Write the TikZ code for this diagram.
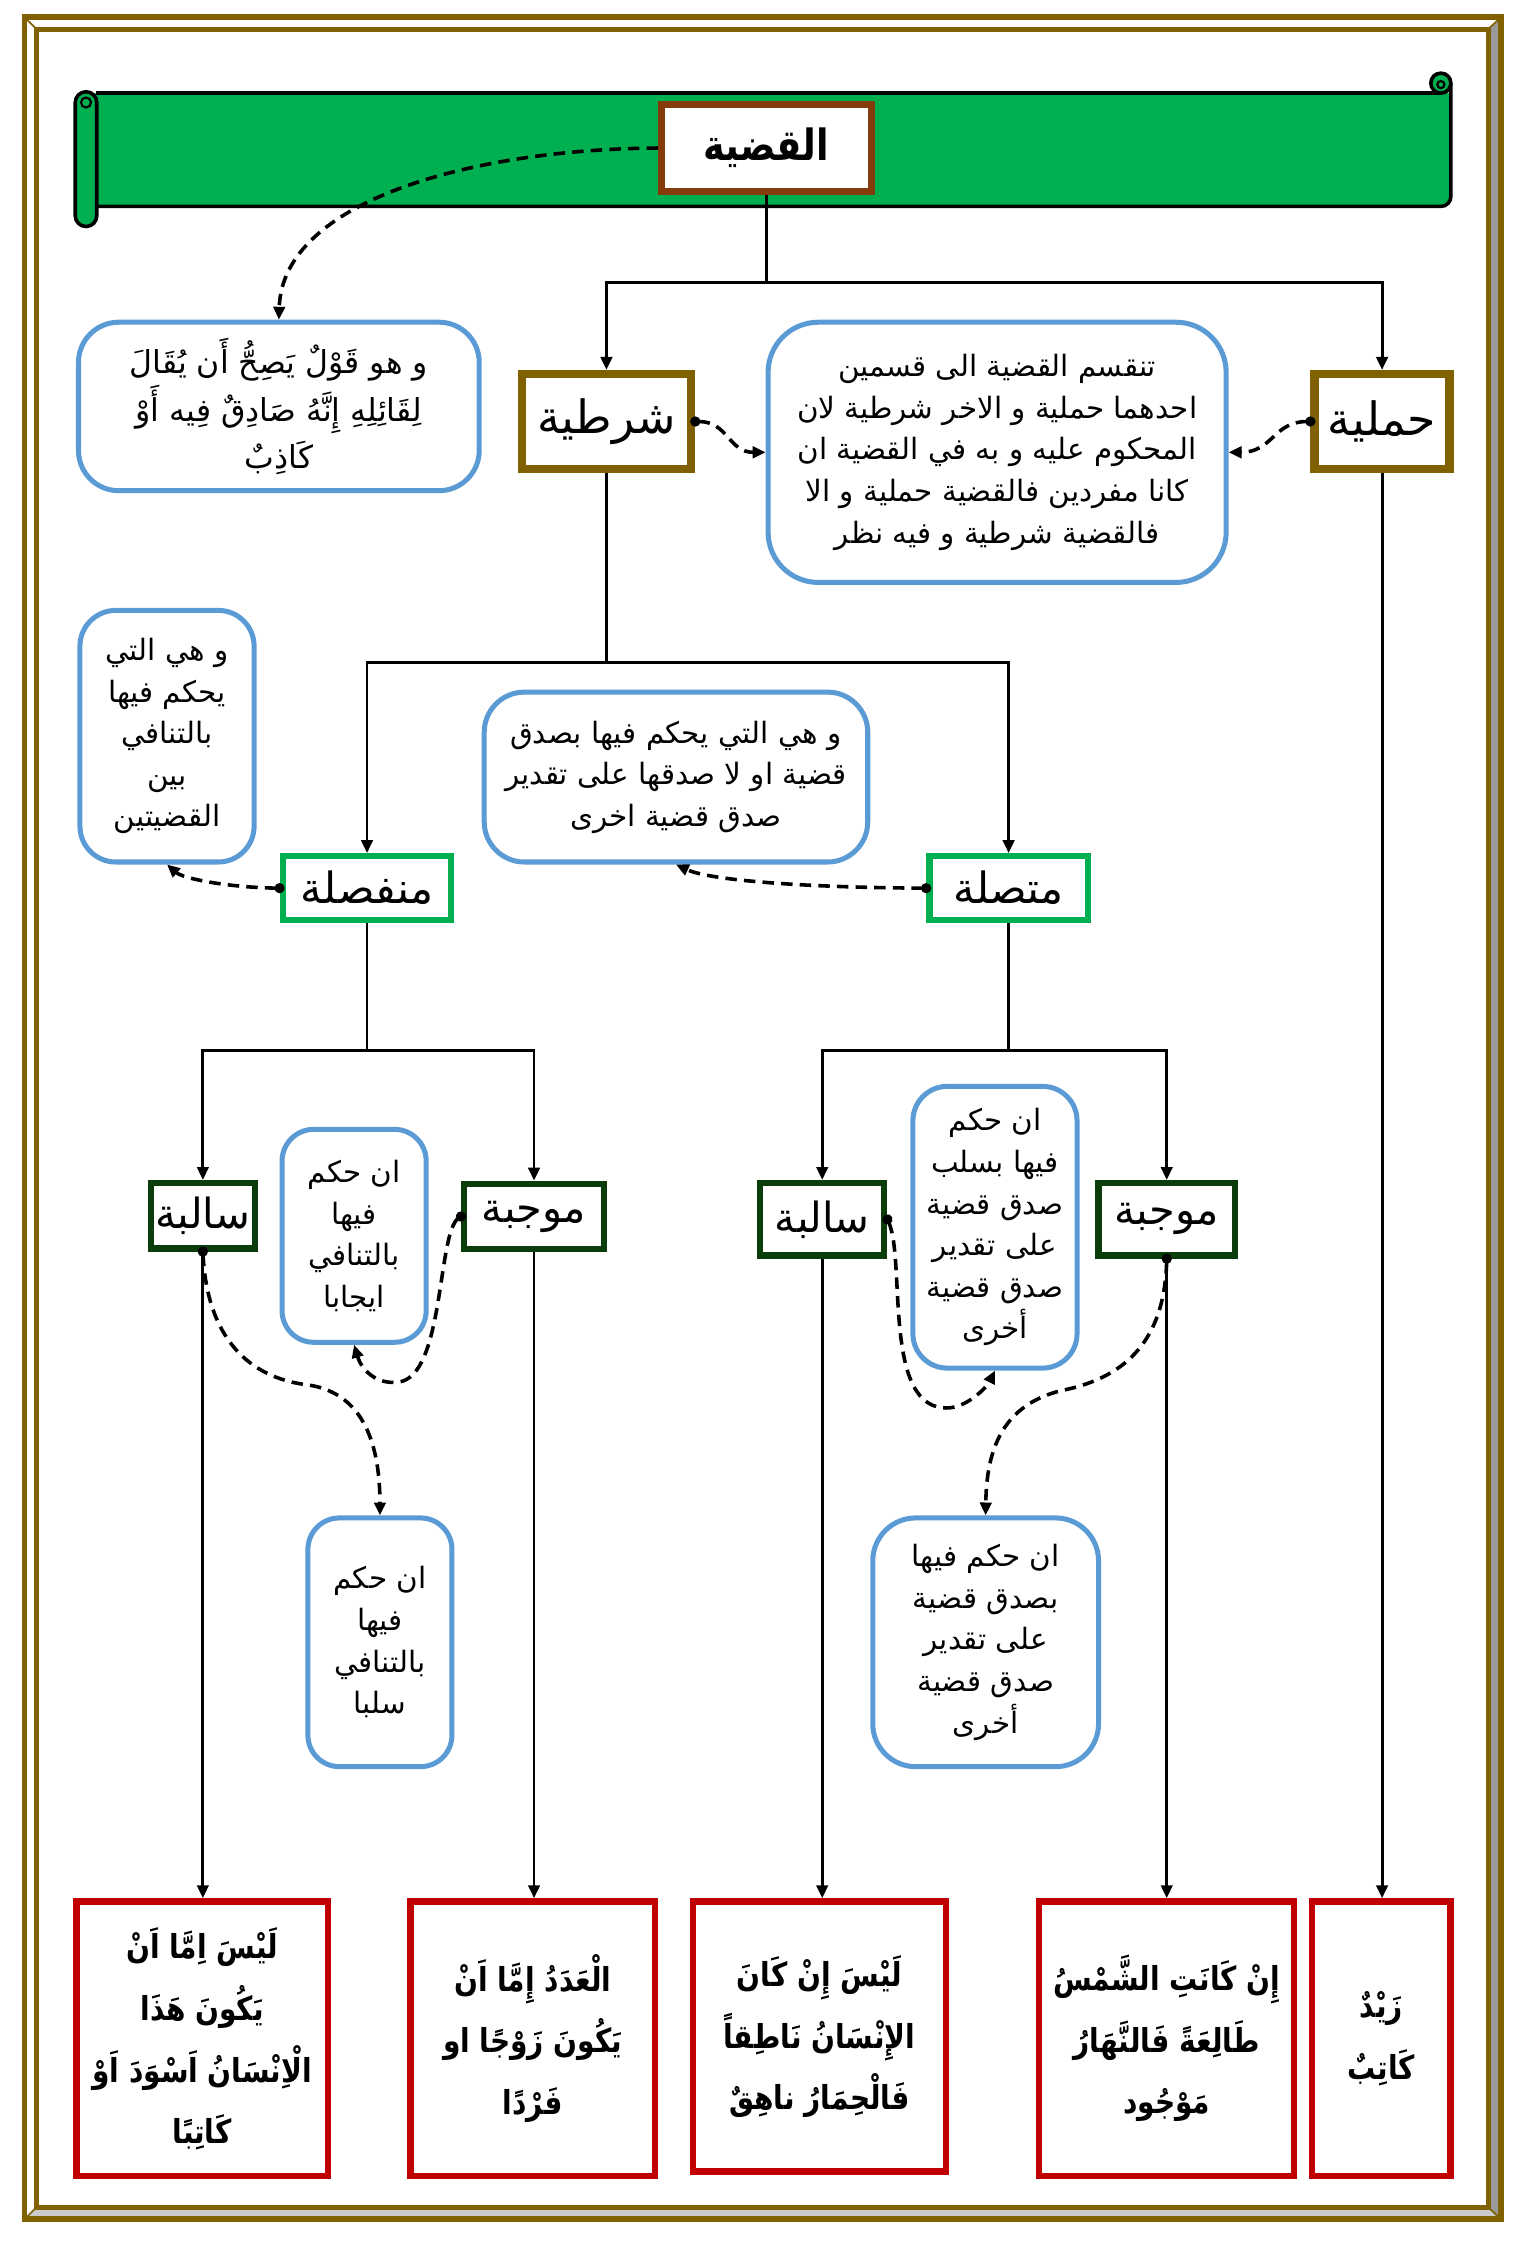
\documentclass[tikz,border=0pt]{standalone}
\usepackage{fontspec}
\usetikzlibrary{arrows.meta}
\TeXXeTstate=1
\newfontfamily\arabicfont[Script=Arabic]{DejaVu Sans}
\newfontfamily\arabicnarrow[Script=Arabic, FakeStretch=0.85]{DejaVu Sans}
\newcommand{\AR}[1]{\beginR #1\endR}
\definecolor{framebrown}{HTML}{806000}
\definecolor{titlebrown}{HTML}{843C0C}
\definecolor{bgreen}{HTML}{00B050}
\definecolor{dgreen}{HTML}{0B3D0B}
\definecolor{nblue}{HTML}{5B9BD5}
\definecolor{rred}{HTML}{C00000}
\definecolor{bevdark}{HTML}{999999}
\definecolor{bevlight}{HTML}{CCCCCC}
\tikzset{
  ttl/.style={draw=titlebrown, line width=4pt, fill=white, inner sep=0pt,
    font=\arabicnarrow\bfseries\fontsize{30}{36}\selectfont},
  lbl/.style={draw=framebrown, line width=6pt, fill=white, inner sep=0pt,
    font=\arabicfont\fontsize{32}{38}\selectfont},
  gbox/.style={draw=bgreen, line width=4.5pt, fill=white, inner sep=0pt,
    font=\arabicfont\fontsize{30}{36}\selectfont},
  dbox/.style={draw=dgreen, line width=4.5pt, fill=white, inner sep=0pt,
    font=\arabicfont\fontsize{29}{35}\selectfont},
  note/.style={draw=nblue, line width=3.5pt, fill=white, inner sep=0pt, align=center,
    font=\arabicfont\fontsize{20.5}{29}\selectfont},
  smallnote/.style={note, font=\arabicfont\fontsize{20.5}{29}\selectfont},
  ex/.style={draw=rred, line width=4.5pt, fill=white, inner sep=0pt, align=center,
    font=\arabicnarrow\bfseries\fontsize{23}{43}\selectfont},
  conn/.style={line width=2pt, -{Triangle[length=9pt,width=8pt]}},
  darrow/.style={line width=2.5pt, dash pattern=on 8pt off 5pt,
    {Circle[length=7pt]}-{Triangle[length=9pt,width=8pt]}, shorten <=-3.5pt},
  darrowplain/.style={line width=2.5pt, dash pattern=on 8pt off 5pt,
    -{Triangle[length=9pt,width=8pt]}},
}
\begin{document}
\begin{tikzpicture}[x=1pt,y=-1pt]
\useasboundingbox (0,0) rectangle (1064,1568);
% frame
\fill[white] (17,12) rectangle (1047,1548);
\fill[bevdark] (1047,12) -- (1047,1548) -- (1038,1539.5) -- (1038,20.3) -- cycle;
\fill[bevlight] (17,1548) -- (1047,1548) -- (1038,1539.5) -- (25.5,1539.5) -- cycle;
\draw[framebrown, line width=4pt] (17,12) rectangle (1047,1548);
\draw[framebrown, line width=3.5pt] (25.5,20.3) rectangle (1038,1539.5);
\draw[framebrown, line width=1.2pt] (17,12) -- (25.5,20.3) (1047,12) -- (1038,20.3)
  (17,1548) -- (25.5,1539.5) (1047,1548) -- (1038,1539.5);
% banner
\path[fill=bgreen] (60,65) -- (1012,65) [rounded corners=7pt] -- (1012,144) -- (60,144) -- cycle;
\draw[line width=2.5pt, rounded corners=7pt] (1012,58) -- (1012,144) -- (67,144);
\draw[line width=2.5pt] (67,65) -- (1005,65);
\filldraw[fill=bgreen, line width=2.5pt] (1005,58) circle[radius=7pt];
\draw[line width=1.5pt] (1005,59) circle[radius=2.5pt];
\filldraw[fill=bgreen, line width=2.5pt, rounded corners=7.5pt] (52.5,64) rectangle (67.5,158);
\draw[line width=1.5pt] (60,71.5) circle[radius=3.5pt];
% nodes
\node[ttl, minimum width=147pt, minimum height=61.5pt] (qadiya) at (534.5,103.25) {\AR{القضية}};
\draw[titlebrown, line width=1.2pt] ([shift={(4,4)}]qadiya.north west) rectangle ([shift={(-4,-4)}]qadiya.south east);

\node[lbl, minimum width=94pt, minimum height=66pt] (hamli) at (964,294) {\AR{حملية}};
\node[lbl, minimum width=118pt, minimum height=66pt] (sharti) at (423,294) {\AR{شرطية}};

\node[note, rounded corners=28pt, minimum width=279.5pt, minimum height=117.5pt,
  font=\arabicfont\fontsize{22}{33}\selectfont] (def) at (194.5,283.5)
  {\AR{و هو قَوْلٌ يَصِحُّ أَن يُقَالَ}\\\AR{لِقَائِلِهِ إِنَّهُ صَادِقٌ فِيه أَوْ}\\\AR{كَاذِبٌ}};
\node[note, rounded corners=35pt, minimum width=319.5pt, minimum height=181.5pt] (mid) at (695.5,315.5)
  {\AR{تنقسم القضية الى قسمين}\\\AR{احدهما حملية و الاخر شرطية لان}\\\AR{المحكوم عليه و به في القضية ان}\\\AR{كانا مفردين فالقضية حملية و الا}\\\AR{فالقضية شرطية و فيه نظر}};

\node[gbox, minimum width=117.5pt, minimum height=44.5pt] (munf) at (256,619.5) {\AR{منفصلة}};
\node[gbox, minimum width=110.5pt, minimum height=44.5pt] (mutt) at (703.5,619.5) {\AR{متصلة}};

\node[note, rounded corners=25pt, minimum width=121.5pt, minimum height=175.5pt] (note1) at (116.5,513.5)
  {\AR{و هي التي}\\\AR{يحكم فيها}\\\AR{بالتنافي}\\\AR{بين}\\\AR{القضيتين}};
\node[note, rounded corners=28pt, minimum width=267.5pt, minimum height=118.5pt] (note2) at (471.5,542)
  {\AR{و هي التي يحكم فيها بصدق}\\\AR{قضية او لا صدقها على تقدير}\\\AR{صدق قضية اخرى}};

\node[dbox, minimum width=72.5pt, minimum height=45.5pt] (salL) at (141.5,848) {\AR{سالبة}};
\node[dbox, minimum width=97.5pt, minimum height=45.5pt] (mujL) at (372.5,848.5) {\AR{موجبة}};
\node[dbox, minimum width=86.5pt, minimum height=50.5pt] (salR) at (573.5,850.5) {\AR{سالبة}};
\node[dbox, minimum width=95.5pt, minimum height=50.5pt] (mujR) at (813.8,850.5) {\AR{موجبة}};

\node[smallnote, rounded corners=22pt, minimum width=100.5pt, minimum height=148.5pt] (ijab) at (247,862)
  {\AR{ان حكم}\\\AR{فيها}\\\AR{بالتنافي}\\\AR{ايجابا}};
\node[smallnote, rounded corners=22pt, minimum width=100.5pt, minimum height=173.5pt] (salb) at (265,1145.5)
  {\AR{ان حكم}\\\AR{فيها}\\\AR{بالتنافي}\\\AR{سلبا}};
\node[smallnote, rounded corners=24pt, minimum width=114.5pt, minimum height=196.5pt] (bisalb) at (694,856)
  {\AR{ان حكم}\\\AR{فيها بسلب}\\\AR{صدق قضية}\\\AR{على تقدير}\\\AR{صدق قضية}\\\AR{أخرى}};
\node[smallnote, rounded corners=30pt, minimum width=157.5pt, minimum height=173.5pt] (bisidq) at (687.5,1145.5)
  {\AR{ان حكم فيها}\\\AR{بصدق قضية}\\\AR{على تقدير}\\\AR{صدق قضية}\\\AR{أخرى}};

\node[ex, minimum width=175.5pt, minimum height=191.5pt] (red1) at (141,1422)
  {\AR{لَيْسَ اِمَّا اَنْ}\\\AR{يَكُونَ هَذَا}\\\AR{الْاِنْسَانُ اَسْوَدَ اَوْ}\\\AR{كَاتِبًا}};
\node[ex, minimum width=170.5pt, minimum height=191.5pt] (red2) at (371.5,1422)
  {\AR{الْعَدَدُ إِمَّا اَنْ}\\\AR{يَكُونَ زَوْجًا او}\\\AR{فَرْدًا}};
\node[ex, minimum width=176.5pt, minimum height=188.5pt] (red3) at (571.5,1420.5)
  {\AR{لَيْسَ إِنْ كَانَ}\\\AR{الإِنْسَانُ نَاطِقاً}\\\AR{فَالْحِمَارُ ناهِقٌ}};
\node[ex, minimum width=178pt, minimum height=191.5pt] (red4) at (813.7,1422)
  {\AR{إِنْ كَانَتِ الشَّمْسُ}\\\AR{طَالِعَةً فَالنَّهَارُ}\\\AR{مَوْجُود}};
\node[ex, minimum width=96.5pt, minimum height=191.5pt] (red5) at (963.5,1422)
  {\AR{زَيْدٌ}\\\AR{كَاتِبٌ}};

% solid connectors
\coordinate (j1) at (534.5,197);
\coordinate (j2) at (423,462);
\coordinate (j3) at (256,733);
\coordinate (j4) at (703.5,733);
\draw[conn] (qadiya.south) -- (j1) -| (sharti.north);
\draw[conn] (j1) -| (hamli.north);
\draw[conn] (sharti.south) -- (j2) -| (munf.north);
\draw[conn] (j2) -| (mutt.north);
\draw[conn] (munf.south) -- (j3) -| (salL.north);
\draw[conn] (j3) -| (mujL.north);
\draw[conn] (mutt.south) -- (j4) -| (salR.north);
\draw[conn] (j4) -| (mujR.north);
\draw[conn] (salL.south) -- (salL.south |- red1.north);
\draw[conn] (mujL.south) -- (mujL.south |- red2.north);
\draw[conn] (salR.south) -- (salR.south |- red3.north);
\draw[conn] (mujR.south) -- (mujR.south |- red4.north);
\draw[conn] (hamli.south) -- (hamli.south |- red5.north);

% dashed connectors
\draw[darrowplain] (qadiya.west) .. controls (330,104) and (197,140) .. (def.north);
\draw[darrow] (sharti.east) .. controls (508,294) and (508,315.5) .. (mid.west);
\draw[darrow] (hamli.west) .. controls (888,294) and (888,315.5) .. (mid.east);
\draw[darrow] (munf.west) .. controls (160,619) and (128,613) .. (note1.south);
\draw[darrow] (mutt.west) .. controls (560,619) and (495,614) .. (note2.south);
\draw[darrow] (mujL.west) .. controls (305,860) and (310,960) .. (278,964)
  .. controls (262,966) and (252,955) .. (ijab.south);
\draw[darrow] (salL.south) .. controls (145,940) and (180,962) .. (215,966)
  .. controls (255,972) and (265,1010) .. (salb.north);
\draw[darrow] (salR.east) .. controls (632,880) and (615,985) .. (662,982)
  .. controls (675,981) and (688,968) .. (bisalb.south);
\draw[darrow] (mujR.south) .. controls (812,940) and (780,962) .. (740,970)
  .. controls (700,980) and (688,1010) .. (bisidq.north);
\end{tikzpicture}
\end{document}
